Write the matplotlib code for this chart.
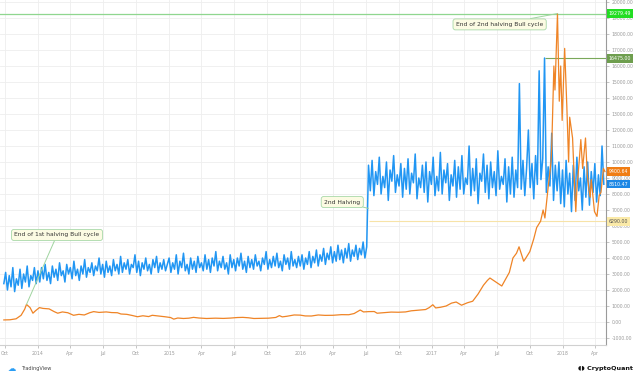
import matplotlib
matplotlib.use("Agg")
import matplotlib.pyplot as plt
import matplotlib.dates as mdates
import matplotlib.transforms as mtransforms
import pandas as pd

# blue series, thousands, one value every 5 days from 2013-09-28
blue_start = "2013-09-28"
blue_k = [
    2.4, 3.1, 2.0, 2.9, 2.2, 3.4, 1.9, 2.7, 2.3, 3.3,
    2.1, 3.0, 2.5, 3.5, 2.2, 2.9, 2.6, 3.4, 2.4,
    # 2014
    3.2, 2.5, 3.4, 2.7, 3.6, 2.6, 3.1, 2.4, 3.5, 2.8,
    3.3, 2.6, 3.7, 2.9, 3.2, 2.5, 3.6, 3.0, 3.4, 2.7,
    3.8, 2.9, 3.3, 2.6, 3.5, 3.0, 3.9, 2.8, 3.4, 3.1,
    3.7, 2.9, 3.5, 3.2, 4.0, 3.0, 3.6, 2.8, 3.8, 3.1,
    3.5, 2.9, 3.9, 3.2, 3.6, 3.0, 4.1, 3.1, 3.7, 3.3,
    3.9, 3.0, 3.6, 3.4, 4.2, 3.1, 3.8, 2.9, 3.7, 3.3,
    4.0, 3.2, 3.6, 3.0, 3.9, 3.4, 4.1, 3.1, 3.7, 3.3,
    3.9, 3.2, 3.6,
    # 2015
    4.0, 3.1, 3.7, 3.3, 4.2, 3.0, 3.8, 3.4, 4.3, 3.2,
    3.6, 3.0, 4.0, 3.3, 3.8, 3.1, 4.1, 3.4, 3.7, 3.2,
    4.2, 3.3, 3.9, 3.1, 4.0, 3.5, 4.4, 3.2, 3.8, 3.4,
    4.1, 3.3, 3.7, 3.0, 4.2, 3.4, 3.9, 3.2, 4.0, 3.5,
    4.3, 3.3, 3.8, 3.1, 4.1, 3.4, 3.9, 3.3, 4.2, 3.5,
    3.8, 3.2, 4.0, 3.6, 4.4, 3.3, 3.9, 3.4, 4.1, 3.5,
    4.3, 3.4, 3.8, 3.2, 4.2, 3.6, 4.0, 3.3, 4.4, 3.5,
    3.9, 3.4, 4.1,
    # 2016 until halving
    3.5, 4.2, 3.3, 4.0, 3.6, 4.4, 3.4, 4.1, 3.7, 4.5,
    3.5, 4.2, 3.8, 4.6, 3.6, 4.3, 3.9, 4.7, 3.7, 4.4,
    3.8, 4.8, 3.9, 4.5, 3.7, 4.6, 4.0, 4.9, 3.8, 4.5,
    4.1, 4.8, 3.9, 4.6, 4.2, 5.0, 4.0, 4.7,
    # after 2nd halving
    9.8, 8.2, 10.1, 7.9, 9.4, 8.6, 10.3, 8.0, 9.1, 8.4,
    10.0, 7.6, 9.5, 8.8, 10.4, 8.1, 9.2, 8.5, 9.9, 7.8,
    9.6, 8.3, 10.2, 8.0, 9.3, 8.7, 10.5, 7.7, 9.0, 8.4,
    9.8, 8.1, 10.0, 7.5, 9.4, 8.6, 10.3, 7.9, 9.1, 8.2,
    10.6, 8.0, 9.5, 8.7, 9.9, 7.6, 9.2, 8.5, 10.1, 7.8,
    9.7, 8.3, 10.4, 8.0, 9.0, 8.6, 11.0, 7.9, 9.6, 8.2,
    10.2, 7.4, 9.3, 8.8, 10.5, 8.1, 9.8, 7.7, 10.0, 8.4,
    9.4, 7.9, 10.7, 8.3, 9.1, 8.6, 10.2, 7.5, 9.7, 8.0,
    10.3, 7.8, 9.5, 8.4,
    # Sep - Dec 2017
    14.9, 8.3, 10.1, 7.9, 9.6, 12.0, 8.4, 9.9, 7.7, 10.4,
    8.6, 15.7, 8.9, 10.2, 16.5, 8.1, 9.7, 8.5, 11.8, 7.6,
    9.8, 8.2, 10.0, 7.4,
    # 2018
    9.5, 7.2, 10.1, 8.0, 9.3, 6.9, 9.8, 7.6, 10.3, 8.2,
    9.0, 7.0, 9.7, 7.8, 10.0, 7.3, 9.4, 8.1, 9.9, 7.5,
    9.2, 7.9, 11.0, 8.61,
]

price_dates = [
    "2013-09-28", "2013-10-15", "2013-11-01", "2013-11-15", "2013-11-25", "2013-11-30",
    "2013-12-05", "2013-12-10", "2013-12-18", "2013-12-25", "2014-01-05", "2014-01-15",
    "2014-02-01", "2014-02-15", "2014-02-25", "2014-03-10", "2014-03-25", "2014-04-10",
    "2014-04-25", "2014-05-10", "2014-05-25", "2014-06-05", "2014-06-20", "2014-07-10",
    "2014-07-25", "2014-08-10", "2014-08-20", "2014-09-05", "2014-09-20", "2014-10-05",
    "2014-10-20", "2014-11-05", "2014-11-15", "2014-12-01", "2014-12-20", "2015-01-05",
    "2015-01-14", "2015-01-25", "2015-02-10", "2015-02-25", "2015-03-10", "2015-03-25",
    "2015-04-15", "2015-05-10", "2015-06-01", "2015-06-20", "2015-07-10", "2015-07-25",
    "2015-08-10", "2015-08-25", "2015-09-15", "2015-10-05", "2015-10-25", "2015-11-04",
    "2015-11-12", "2015-11-25", "2015-12-15", "2016-01-01", "2016-01-15", "2016-02-01",
    "2016-02-20", "2016-03-10", "2016-04-01", "2016-04-25", "2016-05-15", "2016-05-30",
    "2016-06-16", "2016-06-25", "2016-07-10", "2016-07-25", "2016-08-02", "2016-08-20",
    "2016-09-10", "2016-09-30", "2016-10-20", "2016-11-05", "2016-11-25", "2016-12-15",
    "2016-12-25", "2017-01-04", "2017-01-12", "2017-01-25", "2017-02-10", "2017-02-25",
    "2017-03-10", "2017-03-25", "2017-04-10", "2017-04-25", "2017-05-10", "2017-05-25",
    "2017-06-05", "2017-06-12", "2017-06-25", "2017-07-15", "2017-07-25", "2017-08-05",
    "2017-08-15", "2017-08-25", "2017-09-01", "2017-09-14", "2017-09-20", "2017-10-01",
    "2017-10-12", "2017-10-20", "2017-10-31", "2017-11-07", "2017-11-12", "2017-11-20",
    "2017-11-29", "2017-12-01", "2017-12-07", "2017-12-10", "2017-12-17", "2017-12-22",
    "2017-12-26", "2017-12-30", "2018-01-06", "2018-01-12", "2018-01-17", "2018-01-20",
    "2018-01-28", "2018-02-02", "2018-02-06", "2018-02-09", "2018-02-16", "2018-02-20",
    "2018-02-25", "2018-03-05", "2018-03-10", "2018-03-15", "2018-03-18", "2018-03-21",
    "2018-03-30", "2018-04-06", "2018-04-12", "2018-04-17", "2018-04-24", "2018-04-28",
]
price = [
    130, 140, 200, 420, 800, 1100,
    1000, 900, 550, 700, 900, 850,
    820, 650, 550, 630, 580, 420,
    480, 440, 580, 650, 600, 630,
    590, 580, 500, 480, 410, 330,
    390, 340, 420, 380, 330, 280,
    180, 250, 220, 240, 290, 250,
    220, 240, 225, 245, 280, 290,
    265, 220, 230, 240, 285, 400,
    320, 360, 440, 430, 380, 375,
    440, 415, 420, 460, 455, 530,
    750, 630, 650, 655, 550, 580,
    620, 610, 630, 700, 740, 780,
    900, 1080, 880, 920, 1000, 1180,
    1250, 1050, 1200, 1300, 1750, 2300,
    2600, 2750, 2550, 2250, 2650, 3100,
    4000, 4300, 4700, 3800, 4000, 4400,
    5200, 5900, 6300, 7000, 6500, 8200,
    10000, 10900, 16000, 14500, 19279.49, 13800,
    16000, 12600, 17100, 13500, 10000, 12800,
    11500, 8800, 6900, 8300, 10200, 11400,
    9600, 11500, 9200, 8200, 7800, 8900,
    6900, 6600, 7900, 8100, 9600, 9400.64,
]

tick_dates = ["2013-10-01", "2014-01-01", "2014-04-01", "2014-07-01", "2014-10-01",
              "2015-01-01", "2015-04-01", "2015-07-01", "2015-10-01", "2016-01-01",
              "2016-04-01", "2016-07-01", "2016-10-01", "2017-01-01", "2017-04-01",
              "2017-07-01", "2017-10-01", "2018-01-01", "2018-04-01"]
tick_labels = ["Oct", "2014", "Apr", "Jul", "Oct", "2015", "Apr", "Jul", "Oct", "2016",
               "Apr", "Jul", "Oct", "2017", "Apr", "Jul", "Oct", "2018", "Apr"]

ath = 19279.49
level_2 = 16475.00
level_3 = 6290.00
blue_last = 8610.47
price_last = 9400.64

BLUE = "#2196F3"
ORANGE = "#EF8426"

blue_x = pd.date_range(blue_start, periods=len(blue_k), freq="5D")
blue_y = [v * 1000 for v in blue_k]
px = pd.to_datetime(price_dates)

fig = plt.figure(figsize=(6.37, 3.79), dpi=100)
ax = fig.add_axes([0.0, 0.0897, 0.9513, 0.9103])

ax.plot(blue_x, blue_y, color=BLUE, lw=1.1, zorder=3)
ax.plot(px, price, color=ORANGE, lw=0.9, zorder=4)

ref = mdates.date2num(pd.Timestamp("2014-01-01"))
ax.set_xlim(ref - 105.7, ref + 1581)
ax.set_ylim(-1437, 20125)

ax.set_xticks(pd.to_datetime(tick_dates))
ax.set_xticklabels(tick_labels)
ax.set_yticks(range(-1000, 20001, 1000))
ax.yaxis.set_major_formatter(plt.FormatStrFormatter("%.2f"))
ax.yaxis.tick_right()
ax.tick_params(axis="both", labelsize=3.3, colors="#9a9a9a", length=2, width=0.4, pad=2)
ax.grid(True, color="#eeeeee", lw=0.6)
ax.set_axisbelow(True)
for side in ["top", "left"]:
    ax.spines[side].set_visible(False)
ax.spines["right"].set_color("#9a9a9a")
ax.spines["right"].set_linewidth(0.8)
ax.spines["bottom"].set_color("#d0d0d0")

# level lines
ax.axhline(ath, color="#8fd68f", lw=0.9, zorder=2)
ax.hlines(level_2, pd.Timestamp("2017-11-12"), ax.get_xlim()[1], color="#7aa85a", lw=0.8, zorder=2)
ax.hlines(level_3, pd.Timestamp("2016-07-09"), ax.get_xlim()[1], color="#f7e3a8", lw=0.8, zorder=2)

# right side value tags
tr = mtransforms.blended_transform_factory(ax.transAxes, ax.transData)
tags = [(ath, "#22dd22", "#ffffff"), (level_2, "#6e9e4e", "#ffffff"),
        (price_last, "#f07d14", "#ffffff"), (blue_last, "#1e88e5", "#ffffff"),
        (level_3, "#fbeaa8", "#555555")]
for val, bg, fg in tags:
    ax.text(1.004, val, "%.2f" % val, transform=tr, fontsize=3.4, color=fg,
            va="center", ha="left", zorder=6, clip_on=False,
            bbox=dict(boxstyle="square,pad=0.35", fc=bg, ec="none"))

# callouts
box = dict(boxstyle="round,pad=0.5,rounding_size=0.4", fc="#fcfbe3", ec="#a8d8a8", lw=0.6)
arrow = dict(arrowstyle="-", color="#9fd49f", lw=0.7, shrinkA=0, shrinkB=0)
ax.annotate("End of 1st halving Bull cycle", xy=(pd.Timestamp("2013-11-30"), 1100),
            xytext=(pd.Timestamp("2014-02-23"), 5440), fontsize=4.3, color="#333333",
            ha="center", va="center", bbox=box, arrowprops=arrow, zorder=7)
ax.annotate("2nd Halving", xy=(pd.Timestamp("2016-07-09"), 7100),
            xytext=(pd.Timestamp("2016-04-27"), 7500), fontsize=4.3, color="#333333",
            ha="center", va="center", bbox=box, arrowprops=arrow, zorder=7)
ax.annotate("End of 2nd halving Bull cycle", xy=(pd.Timestamp("2017-12-17"), ath),
            xytext=(pd.Timestamp("2017-07-09"), 18600), fontsize=4.3, color="#333333",
            ha="center", va="center", bbox=box, arrowprops=arrow, zorder=7)

# footer marks
fig.text(0.012, 0.029, "\u2601", color="#2a9df4", fontsize=6, va="center")
fig.text(0.033, 0.029, "TradingView", color="#444444", fontsize=3.6, va="center")
fig.text(0.993, 0.029, "\u25d6\u25d7 CryptoQuant", color="#111111", fontsize=4.6,
         va="center", ha="right", fontweight="bold")

fig.savefig("out.png", dpi=100)
